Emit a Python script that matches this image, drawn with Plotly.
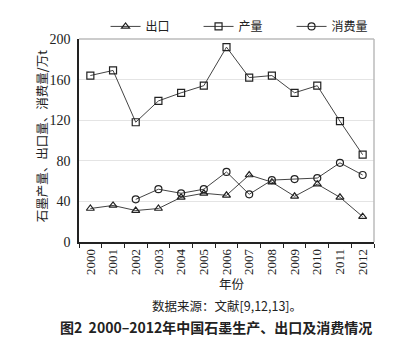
import plotly.graph_objects as go

years = [str(y) for y in range(2000, 2013)]
export = [33, 36, 31, 33, 44, 48, 46, 66, 59, 45, 57, 44, 25]
production = [164, 169, 118, 139, 147, 154, 192, 162, 164, 147, 154, 119, 86]
consumption = [None, None, 42, 52, 48, 52, 69, 47, 61, 62, 63, 78, 66]
y_ticks = [0, 40, 80, 120, 160, 200]

serif = "Liberation Serif"
cjk = "Noto Sans CJK SC"
line_col = "#444444"

fig = go.Figure()
series = [
    ("出口", export, "triangle-up-open"),
    ("产量", production, "square-open"),
    ("消费量", consumption, "circle-open"),
]
for name, vals, sym in series:
    fig.add_trace(go.Scatter(
        x=years, y=vals, name=name, mode="lines+markers",
        line=dict(color=line_col, width=1),
        marker=dict(symbol=sym, size=7, color="#222222", line=dict(width=1.2)),
        connectgaps=False,
    ))

fig.update_layout(
    width=405, height=342,
    margin=dict(l=79, r=31, t=31, b=100),
    paper_bgcolor="white", plot_bgcolor="white",
    font=dict(family=cjk, color="#222222"),
    showlegend=True,
    legend=dict(
        orientation="h", x=0.09, y=1.062, xanchor="left", yanchor="middle",
        entrywidth=48, entrywidthmode="pixels",
        font=dict(family=cjk, size=12, color="#222222"),
        bgcolor="rgba(0,0,0,0)",
    ),
    xaxis=dict(
        type="category", tickson="boundaries", ticks="outside", ticklen=4,
        tickcolor="#222222", tickangle=-90,
        tickfont=dict(family=serif, size=13, color="#222222"),
        showline=True, linecolor="#222222", linewidth=1.5,
        mirror=False, showgrid=False, range=[-0.5, 12.5],
    ),
    yaxis=dict(
        range=[0, 200], tickvals=y_ticks, ticks="", ticklabelstandoff=4,
        tickfont=dict(family=serif, size=14, color="#222222"),
        showline=True, linecolor="#222222", linewidth=1.5,
        showgrid=True, gridcolor="#e4e4e4", gridwidth=1, zeroline=False,
    ),
)

# light frame on the top and right sides of the plot area
fig.add_shape(type="line", xref="paper", yref="paper", x0=0, x1=1, y0=1, y1=1,
              line=dict(color="#bbbbbb", width=1.5))
fig.add_shape(type="line", xref="paper", yref="paper", x0=1, x1=1, y0=0, y1=1,
              line=dict(color="#bbbbbb", width=1.5))

# vertical axis title
fig.add_annotation(text="石墨产量、出口量、消费量/万t", xref="paper", yref="paper",
                   x=-0.126, y=0.52, xanchor="center", yanchor="middle",
                   textangle=-90, showarrow=False,
                   font=dict(family=cjk, size=12.5, color="#222222"))

fig.add_annotation(text="年份", xref="paper", yref="paper", x=0.52, y=-0.204,
                   yanchor="middle", showarrow=False,
                   font=dict(family=cjk, size=12.5, color="#222222"))
fig.add_annotation(text="数据来源：文献[9,12,13]。", xref="paper", yref="paper",
                   x=0.5, y=-0.313, yanchor="middle", showarrow=False,
                   font=dict(family=cjk, size=12.5, color="#222222"))
fig.add_annotation(text="<b>图2  2000–2012年中国石墨生产、出口及消费情况</b>",
                   xref="paper", yref="paper", x=0.465, y=-0.417, yanchor="middle",
                   showarrow=False,
                   font=dict(family=cjk, size=14, color="#222222"))

fig.write_html("out.html")
